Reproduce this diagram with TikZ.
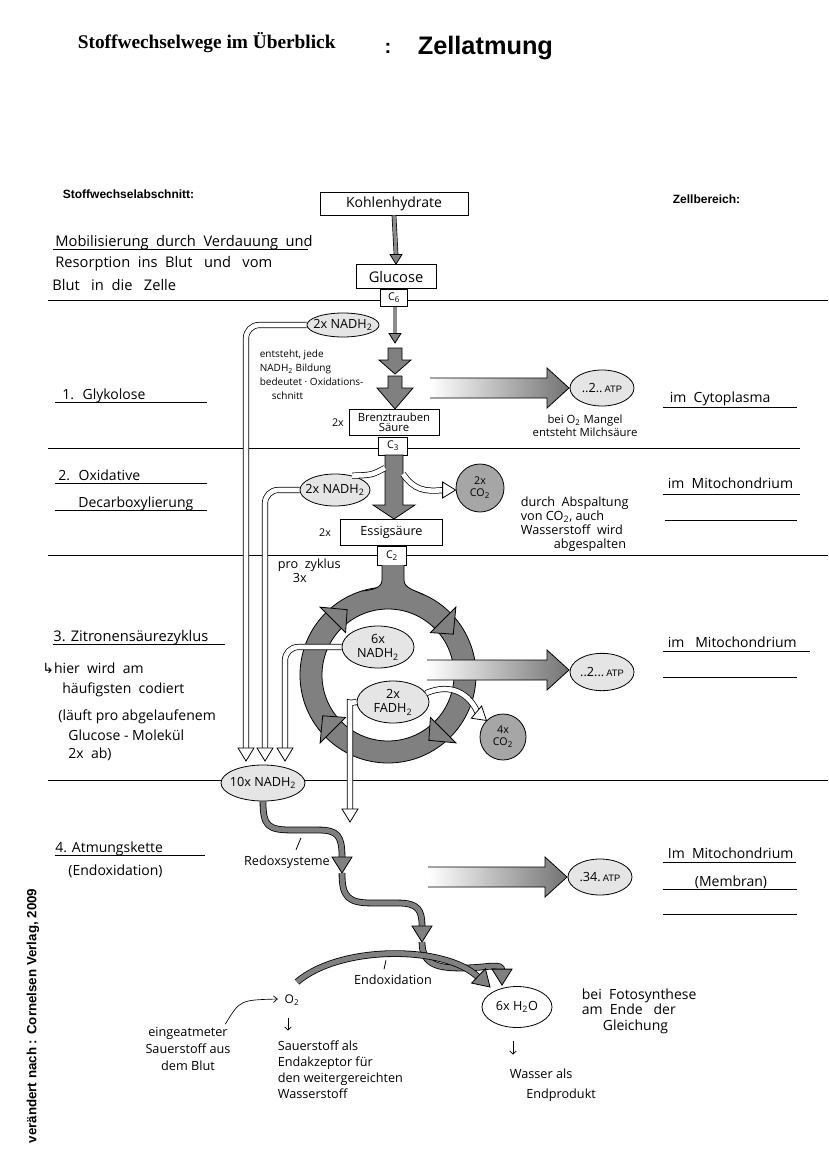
\documentclass[tikz,border=0pt]{standalone}
\usepackage{fontspec}
\setmainfont{Liberation Serif}
\setsansfont{Liberation Sans}
\newfontfamily\handfont{Open Sans}
\newfontfamily\symbolfont{DejaVu Sans}
\usetikzlibrary{shapes.geometric}
\usetikzlibrary{arrows.meta}
\usetikzlibrary{calc}

% open and grey arrow tips, placed at their tip point
\newcommand{\hollowhead}[2]{\draw[fill=white, shift={(#1)}, rotate=#2] (0,0) -- (-13,-8) -- (-13,8) -- cycle;}
\newcommand{\grayhead}[3][1]{\draw[fill=black!50, shift={(#2)}, rotate=#3, scale=#1] (0,0) -- (-16,-10) -- (-16,10) -- cycle;}
% ATP arrow: start x, tip x, middle y
\newcommand{\atparrow}[3]{%
  \shade[left color=white, right color=black!55] (#1,#3-10) -- (#2-22,#3-10) -- (#2-22,#3-20) -- (#2,#3) -- (#2-22,#3+20) -- (#2-22,#3+10) -- (#1,#3+10) -- cycle;
  \draw (#1,#3-10) -- (#2-22,#3-10) -- (#2-22,#3-20) -- (#2,#3) -- (#2-22,#3+20) -- (#2-22,#3+10) -- (#1,#3+10);}

\begin{document}
\begin{tikzpicture}[
  x=0.75pt,
  y=-0.75pt,
  line width=0.6pt,
  every node/.style={font=\handfont\fontsize{9.5}{11}\selectfont},
  handsmall/.style={font=\handfont\fontsize{8}{9}\selectfont},
  handbig/.style={font=\handfont\fontsize{10.5}{12}\selectfont},
  txt/.style={anchor=base west, inner xsep=0pt, font=\handfont\fontsize{10.5}{12}\selectfont},
  stoffbox/.style={draw, fill=white, inner sep=1pt},
  blob/.style={ellipse, draw, fill=black!10, inner sep=0pt},
  co/.style={circle, draw, fill=black!35, inner sep=0pt},
  pipe/.style={draw=black, double=white, double distance=3.5pt, line width=0.55pt, rounded corners=10pt},
  thinpipe/.style={draw=black, double=black!45, double distance=2.5pt, line width=0.5pt},
  band/.style={draw=black, double=black!50, double distance=3.8pt, line width=0.6pt},
  lineal/.style={line width=0.7pt},
  grayshaft/.style={draw, fill=black!50}
]

\fill[white] (0,0) rectangle (828,1170);
\useasboundingbox (0,0) rectangle (828,1170);

% heading
\node[anchor=base west, font=\bfseries\fontsize{14.5}{16}\selectfont] (titel) at (73,49) {Stoffwechselwege im Überblick};
\node[anchor=base, font=\sffamily\bfseries\fontsize{15}{17}\selectfont] (doppelpunkt) at (388,54) {:};
\node[anchor=base west, font=\sffamily\bfseries\fontsize{19}{21}\selectfont] (thema) at (413,55) {Zellatmung};
\node[anchor=base west, font=\sffamily\bfseries\fontsize{9}{11}\selectfont] (abschnitt) at (58,199) {Stoffwechselabschnitt:};
\node[anchor=base west, font=\sffamily\bfseries\fontsize{9}{11}\selectfont] (bereich) at (668,203) {Zellbereich:};
\node[rotate=90, font=\sffamily\bfseries\fontsize{10}{12}\selectfont] (quelle) at (33,1016) {verändert nach : Cornelsen Verlag, 2009};

% ruled lines
\draw[lineal] (48,300) -- (828,300);
\draw[lineal] (48,448) -- (800,448);
\draw[lineal] (48,555) -- (828,555);
\draw[lineal] (48,780) -- (828,780);

% left column
\node[txt, font=\handfont\fontsize{11}{12}\selectfont] (mobA) at (55,246) {Mobilisierung \ durch \ Verdauung \ und};
\draw (53,249) -- (308,249);
\node[txt, font=\handfont\fontsize{11}{12}\selectfont] (mobB) at (55,267) {Resorption \ ins \ Blut \ \ und \ \ vom};
\node[txt, font=\handfont\fontsize{11}{12}\selectfont] (mobC) at (52,290) {Blut \ \ in \ die \ \ Zelle};
\node[txt] (glyk) at (62,399) {1. \ Glykolose};
\draw (55,402) -- (207,402);
\node[txt] (oxid) at (58,480) {2. \ Oxidative};
\draw (55,483) -- (207,483);
\node[txt] (decarb) at (78,507) {Decarboxylierung};
\draw (55,510) -- (207,510);
\node[txt, font=\handfont\fontsize{11}{12}\selectfont] (zitro) at (53,641) {3. Zitronensäurezyklus};
\draw (53,644) -- (225,644);
\node[txt] (zitroA) at (42,673) {{\symbolfont ↳}hier \ wird \ am};
\node[txt] (zitroB) at (62,693) {häufigsten \ codiert};
\node[txt] (zitroC) at (58,720) {(läuft pro abgelaufenem};
\node[txt] (zitroD) at (68,740) {Glucose - Molekül};
\node[txt] (zitroE) at (68,758) {2x \ ab)};
\node[txt] (atmung) at (55,852) {4. Atmungskette};
\draw (55,855) -- (205,855);
\node[txt] (endox) at (68,875) {(Endoxidation)};

% right column
\node[anchor=base west, handbig] (cyto) at (665,402) {im \ Cytoplasma};
\draw (663,407) -- (797,407);
\node[anchor=base west, handbig] (mitoA) at (663,488) {im \ Mitochondrium};
\draw (663,494) -- (800,494);
\draw (665,520) -- (797,520);
\node[anchor=base west, handbig] (mitoB) at (663,647) {im \ \ Mitochondrium};
\draw (663,651) -- (810,651);
\draw (663,677) -- (797,677);
\node[anchor=base west, handbig] (mitoC) at (663,858) {Im \ Mitochondrium};
\draw (663,862) -- (796,862);
\node[anchor=base, handbig] (membran) at (731,886) {(Membran)};
\draw (663,889) -- (797,889);
\draw (663,914) -- (797,914);

% glycolysis
\node[stoffbox, minimum width=111pt, minimum height=17.25pt, font=\handfont\fontsize{10.5}{12}\selectfont] (kohlen) at (394,203.5) {Kohlenhydrate};
\node[stoffbox, minimum width=60pt, minimum height=18pt, font=\handfont\fontsize{11}{12}\selectfont] (glucose) at (396,276.5) {Glucose};
\node[stoffbox, minimum width=20pt, minimum height=13pt, handsmall] (csechs) at (394,298) {C\textsubscript{6}};
\draw[thinpipe] (kohlen.south) -- ($(glucose.north)+(0,-10)$);
\grayhead[0.6]{glucose.north}{-90}
\coordinate (glyA) at (395,343);
\draw[thinpipe] (csechs.south -| glyA) -- ($(glyA)+(0,-10)$);
\grayhead[0.6]{glyA}{-90}
\draw[grayshaft] (388,348) -- (402,348) -- (402,360) -- (411,360) -- (395,374) -- (379,360) -- (388,360) -- cycle;
\draw[grayshaft] (388,376) -- (402,376) -- (402,388) -- (413,388) -- (395,409) -- (377,388) -- (388,388) -- cycle;

\node[blob, minimum width=54pt, minimum height=18pt, label={center:2x NADH\textsubscript{2}}] (nadhA) at (343,325) {};
\node[anchor=north west, align=left, font=\handfont\fontsize{7.5}{10.5}\selectfont] (entsteht) at (255,345) {entsteht, jede\\NADH\textsubscript{2} Bildung\\bedeutet · Oxidations-\\\hspace*{1.2em}schnitt};

\atparrow{430}{569}{388}
\node[blob, minimum width=48pt, minimum height=27pt, label={center:..2..\,{\sffamily\fontsize{7}{8}\selectfont ATP}}] (atpA) at (602,388) {};
\node[align=center, font=\handfont\fontsize{8.5}{10}\selectfont] (milch) at (585,426) {bei O\textsubscript{2} Mangel\\entsteht Milchsäure};

\node[stoffbox, minimum width=67.5pt, minimum height=19.5pt, align=center, font=\handfont\fontsize{8.5}{7.5}\selectfont] (brenz) at (394,422.5) {Brenztrauben\\Säure};
\node[anchor=east, handsmall] (brenzzahl) at (brenz.west) {2x};
\node[stoffbox, minimum width=22pt, minimum height=13.5pt, handsmall] (cdrei) at (393,446) {C\textsubscript{3}};

% oxidative decarboxylation
\draw[grayshaft] (385,455) -- (385,505) -- (373,505) -- (394,519) -- (415,505) -- (403,505) -- (403,455) -- cycle;
\node[blob, minimum width=52.5pt, minimum height=24pt, label={center:2x NADH\textsubscript{2}}] (nadhB) at (335,490) {};
\draw[pipe] (nadhB.40) .. controls (372,475) .. (385,468);
\node[co, minimum size=36pt, label={[align=center, font=\handfont\fontsize{8}{9}\selectfont]center:2x\\CO\textsubscript{2}}] (cotwo) at (480,488) {};
\draw[pipe] (403,474) .. controls (414,490) and (425,492) .. ($(cotwo.west)+(-12,2)$);
\hollowhead{$(cotwo.west)+(0,2)$}{0}
\node[anchor=north west, align=left, font=\handfont\fontsize{9.5}{10.5}\selectfont] (abspalt) at (516,492) {durch \ Abspaltung\\von CO\textsubscript{2}, auch\\Wasserstoff \ wird\\\hspace*{2.6em}abgespalten};
\node[stoffbox, minimum width=77pt, minimum height=20pt] (essig) at (391.5,532.5) {Essigsäure};
\node[anchor=east, handsmall] (essigzahl) at ($(essig.west)+(-4,0)$) {2x};
\node[stoffbox, minimum width=22pt, minimum height=14pt, handsmall] (czwei) at (392,556) {C\textsubscript{2}};
\node[anchor=base west] (prozyklus) at (273,568) {pro \ zyklus};
\node[anchor=base west] (dreimal) at (288,582) {3x};

% citric acid cycle
\begin{scope}[shift={(388,675)}]
  \fill[black!50, even odd rule] (0,0) circle (88) (0,0) circle (66);
  \draw (0,0) circle (88) (0,0) circle (66);
\end{scope}
\path[fill=black!50] (382,565) -- (382,580) .. controls (382,588) and (372,590) .. (362,591) -- (362,602) -- (424,602) -- (424,595) .. controls (414,590) and (404,588) .. (404,580) -- (404,565) -- cycle;
\draw (382,565) -- (382,580) .. controls (382,588) and (372,590) .. (362,591);
\draw (404,565) -- (404,580) .. controls (404,588) and (414,590) .. (424,595);
\begin{scope}[shift={(388,675)}]
  \foreach \a/\b in {-135/-122, -45/-32, 45/58, 135/148}
    \draw[fill=black!50] (\a:60) -- (\a:96) -- (\b:77) -- cycle;
\end{scope}

\node[blob, minimum width=54pt, minimum height=31.5pt, label={[align=center]center:6x\\NADH\textsubscript{2}}] (nadhC) at (378,647) {};
\node[blob, minimum width=54pt, minimum height=31.5pt, label={[align=center]center:2x\\FADH\textsubscript{2}}] (fadh) at (393,702) {};
\atparrow{427}{569}{670}
\node[blob, minimum width=48pt, minimum height=28pt, label={center:..2...\,{\sffamily\fontsize{7}{8}\selectfont ATP}}] (atpB) at (602,672) {};
\node[co, minimum size=34.5pt, label={[align=center, font=\handfont\fontsize{8}{9}\selectfont]center:4x\\CO\textsubscript{2}}] (cofour) at (503,737) {};
\draw[pipe] (fadh.15) .. controls (452,682) and (470,695) .. ($(cofour.135)+(-9,-8)$);
\hollowhead{cofour.135}{-40}

% collecting NADH2
\coordinate (tipA) at (246,761);
\coordinate (tipB) at (265,761);
\coordinate (tipC) at (285,761);
\coordinate (tipD) at (350,822);
\draw[pipe] (nadhA.west) -| ($(tipA)+(0,-13)$);
\draw[pipe] (nadhB.west) -| ($(tipB)+(0,-13)$);
\draw[pipe] (nadhC.west) -| ($(tipC)+(0,-13)$);
\draw[pipe] (fadh.west) .. controls (350,703) .. (350,716) -- ($(tipD)+(0,-13)$);
\hollowhead{tipA}{-90}
\hollowhead{tipB}{-90}
\hollowhead{tipC}{-90}
\hollowhead{tipD}{-90}
\node[blob, minimum width=63pt, minimum height=27pt, label={center:10x NADH\textsubscript{2}}] (nadhsum) at (263,783) {};

% respiratory chain
\node[blob, fill=white, minimum width=52.5pt, minimum height=30.75pt, label={center:6x H\textsubscript{2}O}] (wasser) at (517,1007) {};
\coordinate (redoxA) at (342,873);
\coordinate (redoxB) at (422,942);
\coordinate (wasserTip) at ($(wasser.north)+(-15,-1)$);
\draw[band] (nadhsum.south) .. controls (263,826) and (268,830) .. (292,830) -- (318,830) .. controls (338,830) and (342,836) .. (342,857);
\grayhead{redoxA}{-90}
\draw[band] (redoxA) .. controls (342,897) and (348,903) .. (372,903) -- (398,903) .. controls (418,903) and (422,910) .. (422,926);
\grayhead{redoxB}{-90}
\draw[band] (redoxB) .. controls (422,966) and (440,968) .. (462,968) .. controls (488,968) and (502,962) .. (502,971);
\grayhead{wasserTip}{-90}
\node (redox) at (287,862) {Redoxsysteme};
\draw ($(redox.north)+(9,-1)$) -- ++(5,-12);

\atparrow{428}{567}{877}
\node[blob, minimum width=48pt, minimum height=27pt, label={center:.34.\,{\sffamily\fontsize{7}{8}\selectfont ATP}}] (atpC) at (600,877) {};

% end oxidation
\node[font=\handfont\fontsize{9}{10}\selectfont] (sauer) at (292,1000) {O\textsubscript{2}};
\coordinate (arcTip) at (490,987);
\draw[band] ($(sauer.north)+(5,-8)$) .. controls (340,945) and (445,945) .. (478,977);
\grayhead{arcTip}{-44}
\node (endoxlabel) at (393,980) {Endoxidation};
\draw ($(endoxlabel.north)+(-9,-1)$) -- ++(2,-9);

\node[align=center, font=\handfont\fontsize{9.5}{13}\selectfont] (eingeatmet) at (188,1049) {eingeatmeter\\Sauerstoff aus\\dem Blut};
\draw[-{Straight Barb[length=3pt, width=5pt]}, line width=0.5pt] ($(eingeatmet.north east)+(-10,2)$) .. controls (240,1000) .. ($(sauer.west)+(-2,-1)$);
\node[anchor=north west, align=left, font=\handfont\fontsize{9.5}{12}\selectfont] (sauertext) at (273,1036) {Sauerstoff als\\Endakzeptor für\\den weitergereichten\\Wasserstoff};
\draw[-{Straight Barb[length=2.5pt, width=5pt]}, line width=0.5pt, shorten <=6pt, shorten >=4pt] ($(sauer.south)+(-4,0)$) -- ($(sauer.south |- sauertext.north)+(-4,0)$);

\node[anchor=north west, align=left, font=\handfont\fontsize{9.5}{15}\selectfont] (wassertext) at (505,1064) {Wasser als\\\hspace*{1.3em}Endprodukt};
\draw[-{Straight Barb[length=2.5pt, width=5pt]}, line width=0.5pt, shorten <=10pt, shorten >=7pt] ($(wasser.south)+(-4,0)$) -- ($(wasser.south |- wassertext.north)+(-4,0)$);
\node[anchor=north west, align=left, font=\handfont\fontsize{10.5}{11.6}\selectfont] (foto) at (577,984) {bei \ Fotosynthese\\am \ Ende \ \ der\\\hspace*{1.5em}Gleichung};

\end{tikzpicture}
\end{document}
